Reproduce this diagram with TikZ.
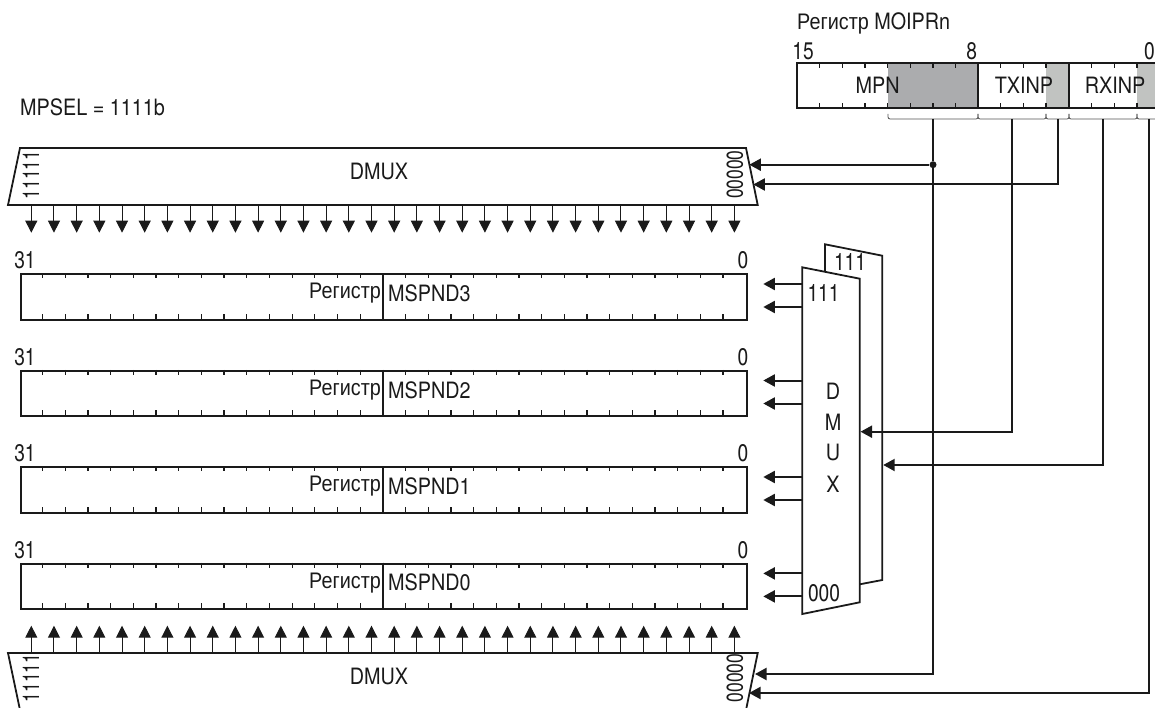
\documentclass[tikz,border=0pt]{standalone}
\usepackage{fontspec}
\setmainfont[FakeStretch=0.88]{TeX Gyre Heros}
\newfontfamily\digitfont[FakeStretch=0.8]{TeX Gyre Heros}
\newfontfamily\sidefont[FakeStretch=0.76]{TeX Gyre Heros}
\newfontfamily\rusfont[FakeStretch=0.88]{Liberation Sans}
\usepackage{xcolor}
\usepackage{tikz}
\usetikzlibrary{shapes.geometric, arrows.meta, positioning, calc}
\definecolor{ink}{HTML}{1A1A1A}
\definecolor{fielddark}{HTML}{ABACAE}
\definecolor{fieldlight}{HTML}{C1C3C1}

\begin{document}
\begin{tikzpicture}[
    x=1pt, y=-1pt,
    every node/.style={font=\fontsize{22.5}{26}\selectfont, text=ink, inner sep=0pt},
    digit/.style={font=\fontsize{24}{28}\digitfont},
    frame/.style={draw=ink, line width=1.8pt},
    tick/.style={draw=ink, line width=1.3pt},
    arrow/.style={-{Triangle[length=11.5pt, width=12pt]}, draw=ink, line width=2pt},
    pin/.style={-{Triangle[length=12pt, width=12pt]}, draw=ink, line width=1pt},
    feed/.style={draw=ink, line width=2pt},
    bracket/.style={draw=ink!75, line width=0.8pt, rounded corners=2pt},
    vert/.style={rotate=90, font=\fontsize{23}{27}\sidefont},
]
\useasboundingbox (0,0) rectangle (1155,708);

% MOIPRn register
\fill[fielddark] (887.7,63) rectangle (978,108);
\fill[fieldlight] (1046,63) rectangle (1069,108);
\fill[fieldlight] (1137,63) rectangle (1155,108);
\foreach \x in {819.7,842.3,865,887.7,910.3,933,955.7,1000.7,1023.3,1046,1091.7,1114.3,1137} {
    \draw[tick] (\x,63) -- ++(0,5);
    \draw[tick] (\x,108) -- ++(0,-5);
}
\draw[frame] (1155,63) -- (797,63) -- (797,108) -- (1155,108);
\draw[frame] (978,63) -- (978,108);
\draw[frame] (1069,63) -- (1069,108);
\node[anchor=west] (moiprname) at (797,23) {{\rusfont Регистр} MOIPRn};
\node[digit] (bitfifteen) at (803,51) {15};
\node[digit] (biteight) at (971.7,51) {8};
\node[digit] (bitzero) at (1149.5,51) {0};
\node (mpn) at (877.7,85) {MPN};
\node (txinp) at (1024,85) {TXINP};
\node (rxinp) at (1115,85) {RXINP};
\node[anchor=west] (mpsel) at (20,107) {MPSEL = 1111b};

% field brackets
\draw[bracket] (888,114) -- (888,119) -- (978,119) -- (978,114);
\draw[bracket] (978,114) -- (978,119) -- (1046,119) -- (1046,114);
\draw[bracket] (1046,114) -- (1046,119) -- (1069,119) -- (1069,114);
\draw[bracket] (1069,114) -- (1069,119) -- (1137,119) -- (1137,114);
\draw[bracket] (1137,114) -- (1137,119) -- (1160,119);
\coordinate (brmpn) at (933,119);
\coordinate (brtxhi) at (1012.3,119);
\coordinate (brtxlo) at (1057.7,119);
\coordinate (brrxhi) at (1102.7,119);
\coordinate (brrxlo) at (1148.7,119);

% demultiplexers, horizontal
\draw[frame] (8,205) -- (20,148) -- (746,148) -- (757.7,205) -- cycle;
\node (dmuxtoplabel) at (379,172) {DMUX};
\node[vert] (topones) at (31,175) {11111};
\node[vert] (topzeros) at (735,174.7) {00000};
\draw[frame] (8,653) -- (20,710) -- (746,710) -- (757.7,653) -- cycle;
\node (dmuxbotlabel) at (379,676) {DMUX};
\node[vert] (botones) at (31,678) {11111};
\node[vert] (botzeros) at (735,678) {00000};

% pins between demultiplexers and registers
\foreach \i in {0,...,31} {
    \coordinate (toppin\i) at ({31.3+22.68*\i},205);
    \coordinate (toptip\i) at ({31.3+22.68*\i},232.7);
    \coordinate (botpin\i) at ({31.3+22.68*\i},653);
    \coordinate (bottip\i) at ({31.3+22.68*\i},625.7);
    \draw[pin] (toppin\i) -- (toptip\i);
    \draw[pin] (botpin\i) -- (bottip\i);
}

% MSPND registers
\foreach \n/\y in {3/273.3,2/369.8,1/466.3,0/562.7} {
    \node[draw=ink, line width=1.8pt, anchor=north west, minimum width=725.7pt, minimum height=45.5pt] (reg\n) at (20,\y) {};
    \foreach \k in {1,...,31} {
        \draw[tick] ({20+22.68*\k},\y) -- ++(0,5);
        \draw[tick] ({20+22.68*\k},\y+45.5) -- ++(0,-5);
    }
    \draw[frame] (383,\y) -- (383,\y+45.5);
    \node[anchor=east, font=\fontsize{22.5}{26}\rusfont] (regname\n) at (381,\y+20) {Регистр};
    \node[anchor=west] (regid\n) at (388,\y+20) {MSPND\n};
    \node[digit] (regmsb\n) at (25,\y-13) {31};
    \node[digit] (reglsb\n) at (743,\y-13) {0};
    \coordinate (muxa\n) at (802.3,\y+10.7);
    \coordinate (tipa\n) at (763.3,\y+10.7);
    \coordinate (muxb\n) at (802.3,\y+33.7);
    \coordinate (tipb\n) at (763.3,\y+33.7);
    \draw[arrow] (muxa\n) -- (tipa\n);
    \draw[arrow] (muxb\n) -- (tipb\n);
}

% demultiplexer, vertical
\draw[frame] (825,271.6) -- (825,244.3) -- (882.3,255.7) -- (882.3,580) -- (859.7,584.3);
\draw[frame] (802.3,267.3) -- (859.7,278.7) -- (859.7,602.3) -- (802.3,614) -- cycle;
\node[digit] (backones) at (850,262) {111};
\node[digit] (frontones) at (823.5,292.7) {111};
\node[digit] (frontzeros) at (824,592.7) {000};
\node (dletter) at (833,391) {D};
\node (mletter) at (833,422.7) {M};
\node (uletter) at (833,452.7) {U};
\node (xletter) at (833,484) {X};
\coordinate (muxfront) at (860.5,431.7);
\coordinate (muxback) at (883.2,465);

% connectors
\coordinate (topsela) at (749.3,164.7);
\coordinate (topselb) at (753.3,184.5);
\coordinate (botsela) at (755,674);
\coordinate (botselb) at (749,693);
\node[circle, fill=ink, minimum size=7pt] (tap) at (933,164.7) {};
\draw[feed] (brmpn) -- (tap);
\draw[arrow] (tap) -- (topsela);
\draw[arrow] (brtxlo) |- (topselb);
\draw[arrow] (tap) |- (botsela);
\draw[arrow] (brrxlo) |- (botselb);
\draw[arrow] (brtxhi) |- (muxfront);
\draw[arrow] (brrxhi) |- (muxback);
\end{tikzpicture}
\end{document}
